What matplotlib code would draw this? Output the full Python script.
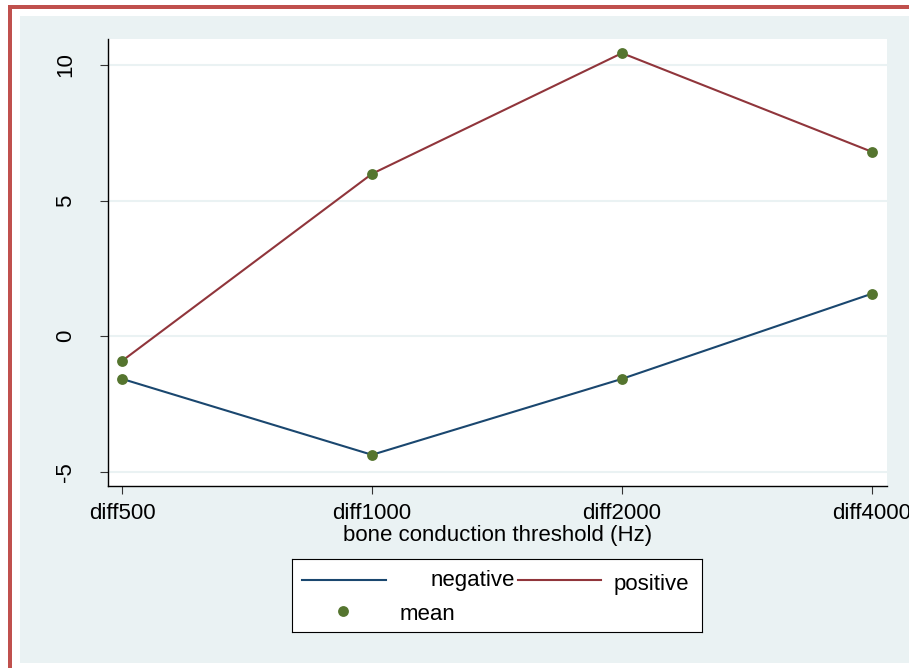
import matplotlib
matplotlib.use("Agg")
import matplotlib.pyplot as plt
from matplotlib.patches import Rectangle

categories = ["diff500", "diff1000", "diff2000", "diff4000"]
negative = [-1.57, -4.37, -1.57, 1.57]
positive = [-0.91, 5.99, 10.44, 6.80]
yticks = [-5, 0, 5, 10]
xlabel = "bone conduction threshold (Hz)"
legend_labels = ["negative", "positive", "mean"]

plt.rcParams['font.family'] = ['Liberation Sans', 'DejaVu Sans']

W, H = 909, 668
fig = plt.figure(figsize=(W / 100, H / 100), dpi=100)
fig.patch.set_facecolor("white")

bg = "#eaf2f3"
red = "#c0504d"
# light background region
fig.patches.append(Rectangle((20 / W, 5 / H), 1 - 20 / W, (663 - 16) / H,
                             transform=fig.transFigure, facecolor=bg, edgecolor="none", zorder=-10))
# red border (left and top)
fig.patches.append(Rectangle((8 / W, 0), 4 / W, (668 - 5) / H,
                             transform=fig.transFigure, facecolor=red, edgecolor="none", zorder=-9))
fig.patches.append(Rectangle((8 / W, (668 - 8.7) / H), 1 - 8 / W, 3.7 / H,
                             transform=fig.transFigure, facecolor=red, edgecolor="none", zorder=-9))

ax = fig.add_axes([108 / W, 1 - 486 / H, 779 / W, 447 / H])
ax.set_facecolor("white")
x = list(range(len(categories)))

neg_color = "#1a476f"
pos_color = "#90353b"
mean_color = "#55752f"

ax.plot(x, negative, color=neg_color, lw=1.5, zorder=3)
ax.plot(x, positive, color=pos_color, lw=1.5, zorder=3)
ax.plot(x, negative, 'o', color=mean_color, ms=7.8, mec='none', zorder=4, clip_on=False)
ax.plot(x, positive, 'o', color=mean_color, ms=7.8, mec='none', zorder=4, clip_on=False)

ax.set_xlim(-0.056, 3.06)
ax.set_ylim(-5.52, 10.96)
ax.set_xticks(x)
ax.set_xticklabels(categories)
ax.set_yticks(yticks)
ax.set_yticklabels([str(v) for v in yticks], rotation=90, va='center')
ax.grid(axis='y', color=bg, lw=1.5)
ax.set_axisbelow(True)
for s in ['top', 'right']:
    ax.spines[s].set_visible(False)
for s in ['left', 'bottom']:
    ax.spines[s].set_color('black')
    ax.spines[s].set_linewidth(1.0)
ax.tick_params(axis='both', length=6, width=0.8, color='#333333', labelsize=16)
ax.tick_params(axis='y', pad=17)
ax.tick_params(axis='x', pad=6)
ax.set_xlabel(xlabel, fontsize=16, labelpad=1)

# Stata-style legend box (layout in box pixel units)
lx0, ly0, lw_, lh_ = 292, 559, 410, 73
lax = fig.add_axes([lx0 / W, 1 - (ly0 + lh_) / H, lw_ / W, lh_ / H])
lax.set_xlim(0, lw_)
lax.set_ylim(lh_, 0)
lax.set_xticks([])
lax.set_yticks([])
lax.set_facecolor('white')
for s in lax.spines.values():
    s.set_color('black')
    s.set_linewidth(0.8)
lax.plot([10, 94], [21, 21], color=neg_color, lw=1.5)
lax.text(139, 26.7, legend_labels[0], fontsize=16, va='baseline', ha='left')
lax.plot([226, 309], [21, 21], color=pos_color, lw=1.5)
lax.text(322, 31, legend_labels[1], fontsize=16, va='baseline', ha='left')
lax.plot([51], [52], 'o', color=mean_color, ms=7.8, mec='none')
lax.text(108, 61, legend_labels[2], fontsize=16, va='baseline', ha='left')

fig.savefig("out.png", dpi=100)
